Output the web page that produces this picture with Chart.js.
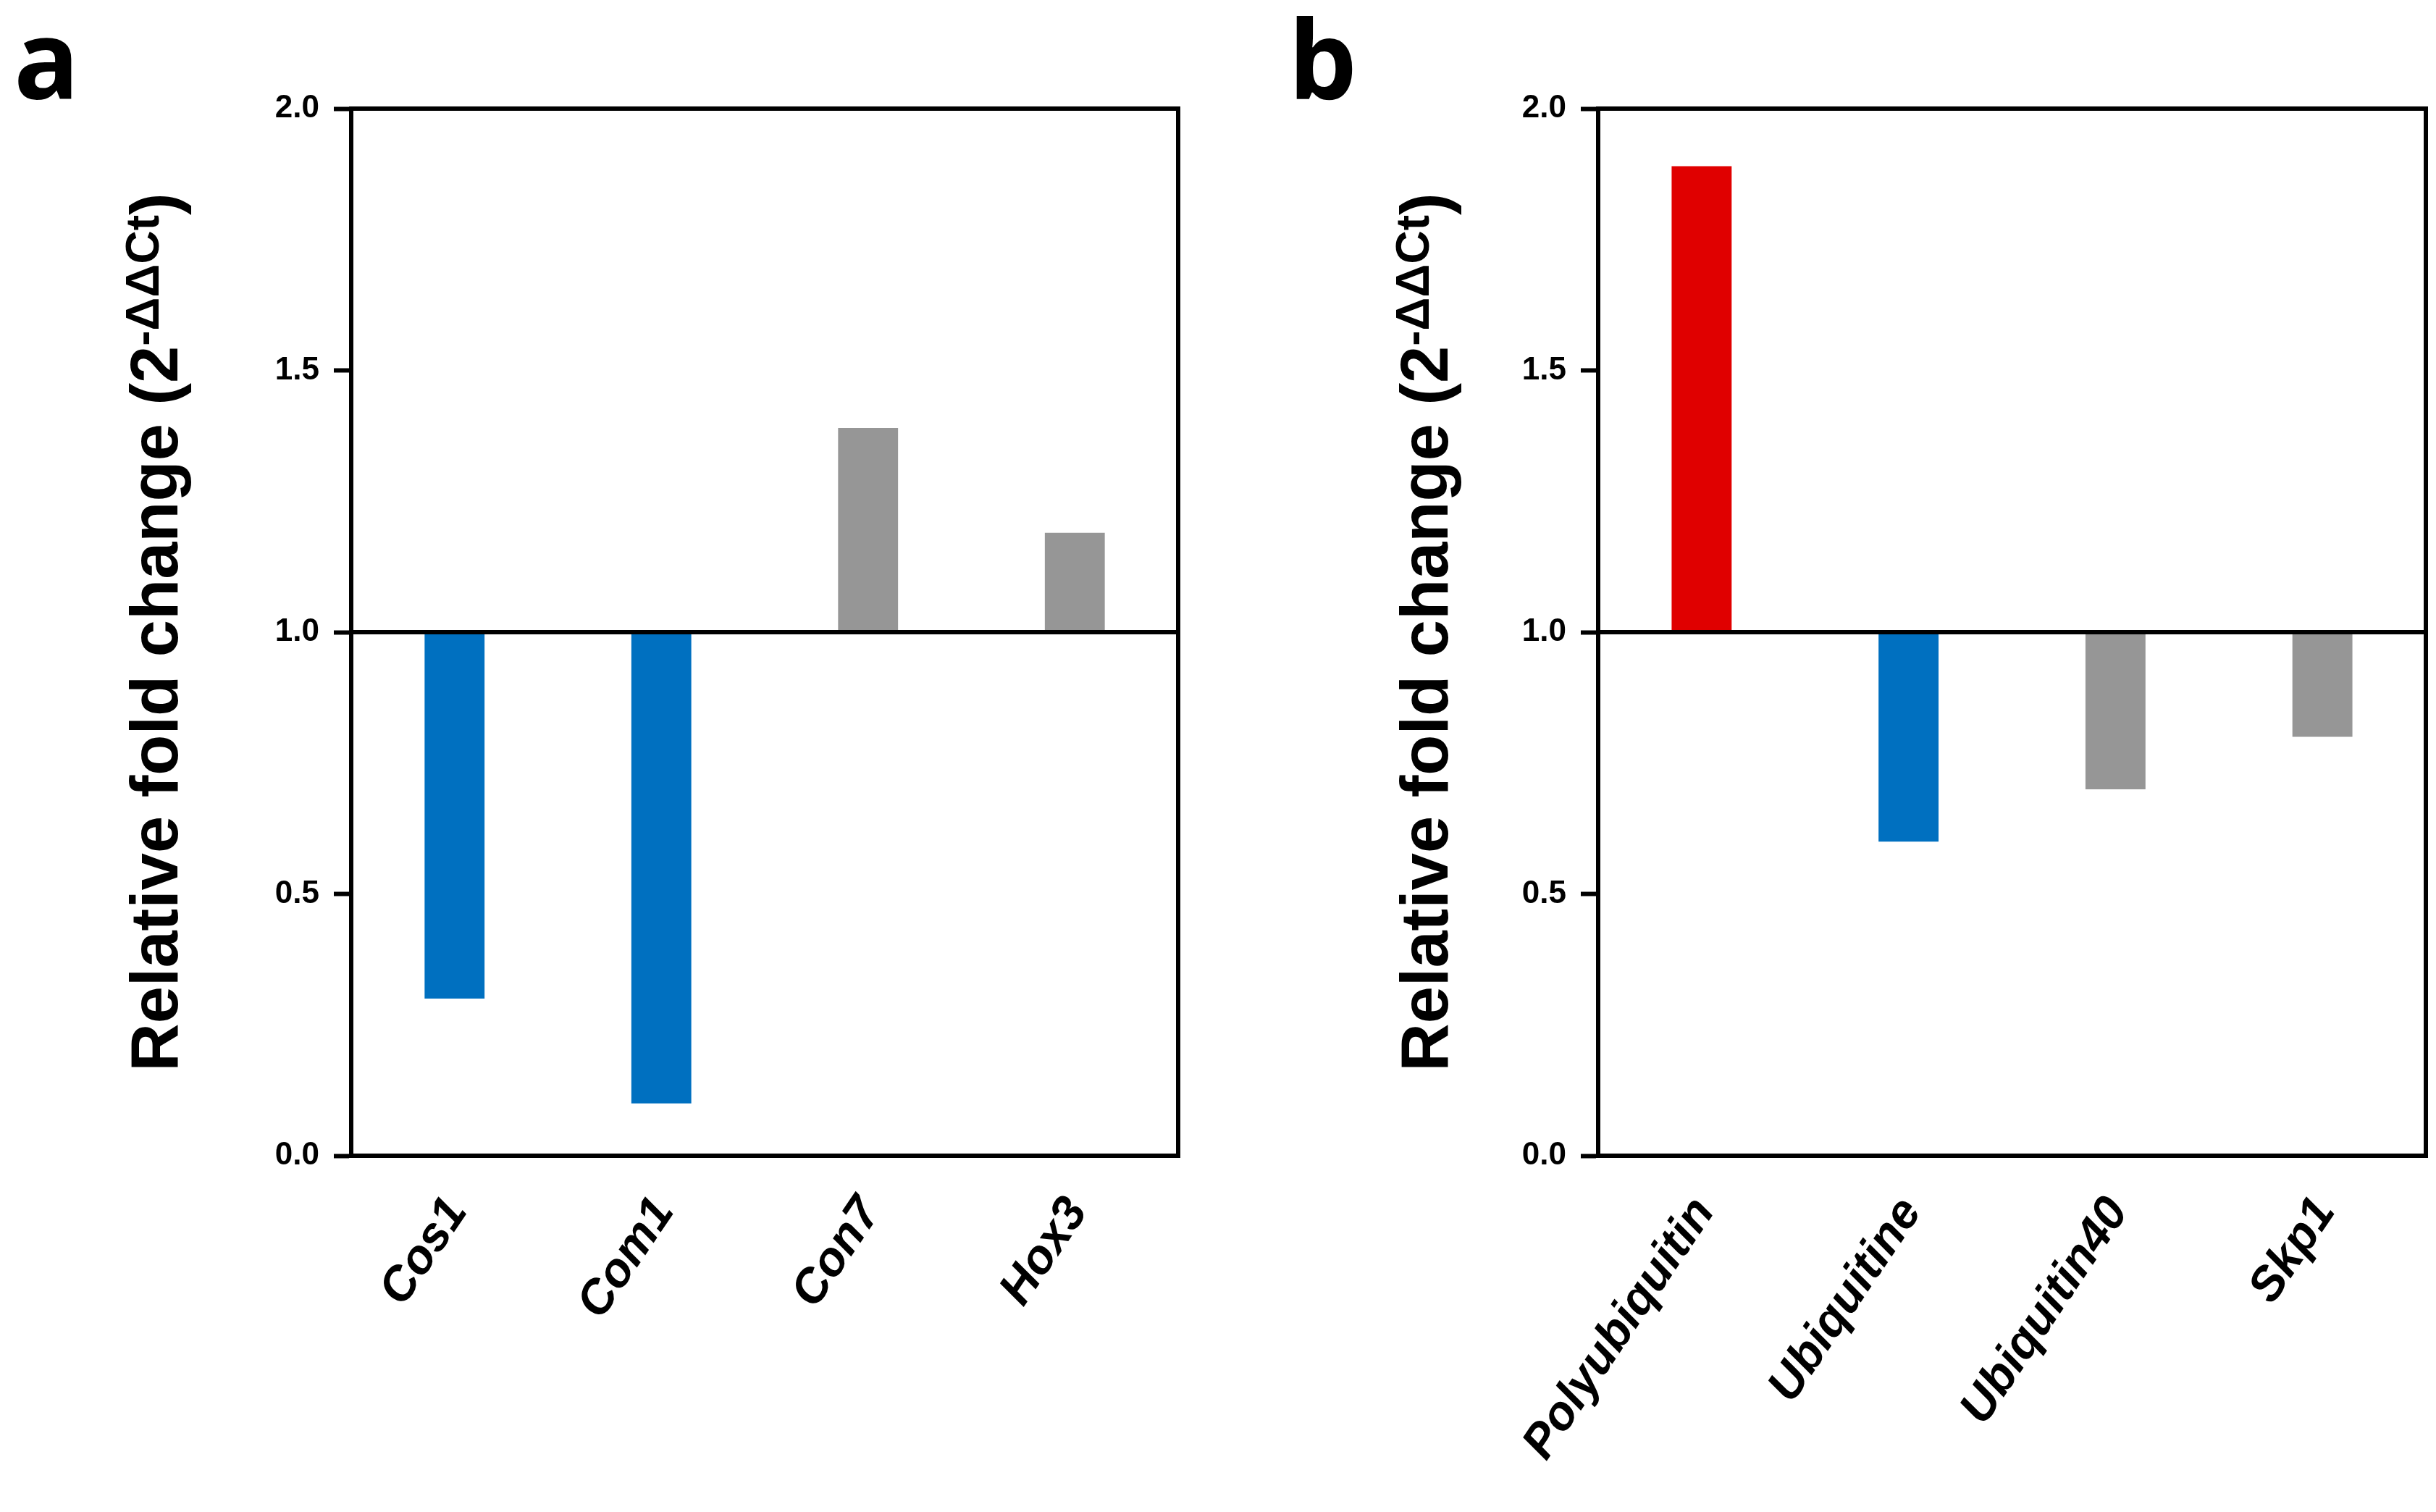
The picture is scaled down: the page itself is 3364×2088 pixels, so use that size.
<!DOCTYPE html>
<html lang="en">
<head>
<meta charset="UTF-8">
<title>Relative fold change</title>
<script src="https://cdn.jsdelivr.net/npm/chart.js@4.4.0/dist/chart.umd.min.js"></script>
<style>
  body { margin: 0; background: #fff; }
  #wrap { position: relative; width: 3364px; height: 2088px; }
  canvas { position: absolute; top: 0; }
</style>
</head>
<body>
<div id="wrap">
  <canvas id="chartA" width="1682" height="2088" style="left:0"></canvas>
  <canvas id="chartB" width="1682" height="2088" style="left:1682px"></canvas>
</div>
<script>
// panel a
const genesA = ['Cos1', 'Com1', 'Con7', 'Hox3'];
const foldA = [0.30, 0.10, 1.39, 1.19];
const colorsA = ['#0070C0', '#0070C0', '#969696', '#969696'];

// panel b
const genesB = ['Polyubiquitin', 'Ubiquitine', 'Ubiquitin40', 'Skp1'];
const foldB = [1.89, 0.60, 0.70, 0.80];
const colorsB = ['#E00000', '#0070C0', '#969696', '#969696'];

const yTickLabels = ['0.0', '0.5', '1.0', '1.5', '2.0'];
const baseline = 1.0;

const FONT = '"Liberation Sans", Arial, sans-serif';

const framePlugin = {
  id: 'frame',
  afterDatasetsDraw(chart, args, opts) {
    const ctx = chart.ctx, a = chart.chartArea;
    const y1 = chart.scales.y.getPixelForValue(baseline);
    ctx.save();
    ctx.strokeStyle = '#000';
    ctx.lineWidth = 6;
    ctx.strokeRect(a.left, a.top, a.right - a.left, a.bottom - a.top);
    ctx.beginPath();
    ctx.moveTo(a.left, y1);
    ctx.lineTo(a.right, y1);
    ctx.stroke();
    ctx.restore();
  },
  afterDraw(chart, args, opts) {
    const ctx = chart.ctx, a = chart.chartArea;
    ctx.save();
    ctx.fillStyle = '#000';
    ctx.textBaseline = 'alphabetic';
    ctx.textAlign = 'left';

    // panel letter
    ctx.font = 'bold 150px "Open Sans", sans-serif';
    const m = ctx.measureText(opts.letter);
    ctx.fillText(opts.letter, opts.letterX + m.actualBoundingBoxLeft, 137);

    // y axis title with superscript
    const main = 'Relative fold change (2';
    const sup = '-\u0394\u0394Ct';
    const close = ')';
    const mainFont = 'bold 92px ' + FONT;
    const supFont = 'bold 64px ' + FONT;
    ctx.font = mainFont;
    const wMain = ctx.measureText(main).width;
    const wClose = ctx.measureText(close).width;
    ctx.font = supFont;
    const wSup = ctx.measureText(sup).width;
    const total = wMain + wSup + wClose;
    ctx.translate(opts.titleX, (a.top + a.bottom) / 2);
    ctx.rotate(-Math.PI / 2);
    let x = -total / 2;
    ctx.font = mainFont;
    ctx.fillText(main, x, 0);
    x += wMain;
    ctx.font = supFont;
    ctx.fillText(sup, x, -26);
    x += wSup;
    ctx.font = mainFont;
    ctx.fillText(close, x, 0);
    ctx.restore();
  }
};

function makeChart(id, labels, values, colors, o) {
  return new Chart(document.getElementById(id), {
    type: 'bar',
    data: {
      labels: labels,
      datasets: [{
        data: values.map(v => [baseline, v]),
        backgroundColor: colors,
        borderWidth: 0,
        borderSkipped: false,
        barPercentage: 0.29,
        categoryPercentage: 1
      }]
    },
    options: {
      responsive: false,
      animation: false,
      devicePixelRatio: 1,
      layout: { padding: { left: 0, top: 150, right: o.right, bottom: 52 } },
      plugins: {
        legend: { display: false },
        tooltip: { enabled: false },
        frame: { letter: o.letter, letterX: o.letterX, titleX: o.titleX }
      },
      scales: {
        x: {
          grid: { display: false },
          border: { display: true, color: '#000', width: 6 },
          ticks: {
            color: '#000',
            font: { family: FONT, size: 66, weight: 'bold', style: 'italic' },
            minRotation: 56,
            maxRotation: 56,
            autoSkip: false,
            padding: 36,
            labelOffset: 4
          },
          afterFit(s) { s.height = 440; }
        },
        y: {
          min: 0,
          max: 2,
          grid: { display: true, drawOnChartArea: false, tickLength: 24, tickWidth: 6, tickColor: '#000' },
          border: { color: '#000', width: 6 },
          ticks: {
            stepSize: 0.5,
            padding: 20,
            color: '#000',
            font: { family: FONT, size: 44, weight: 'bold' },
            callback: (v, i) => yTickLabels[i]
          },
          afterFit(s) { s.width = o.yWidth; }
        }
      }
    },
    plugins: [framePlugin]
  });
}

makeChart('chartA', genesA, foldA, colorsA, { right: 55, yWidth: 485, letter: 'a', letterX: 25, titleX: 245 });
makeChart('chartB', genesB, foldB, colorsB, { right: 14, yWidth: 525, letter: 'b', letterX: 108, titleX: 317 });
</script>
</body>
</html>
